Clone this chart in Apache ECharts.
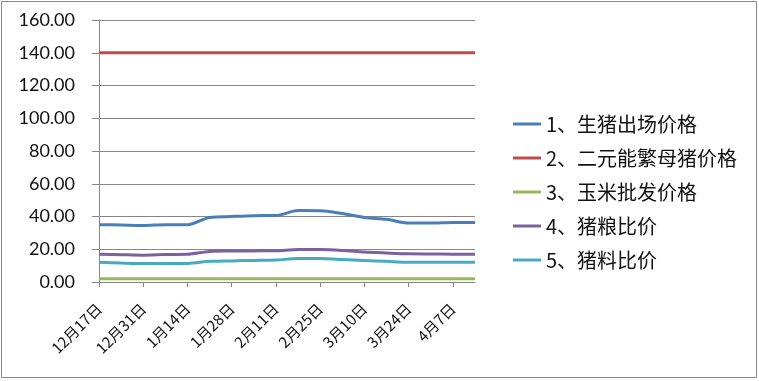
<!DOCTYPE html>
<html><head><meta charset="utf-8">
<script src="https://cdn.jsdelivr.net/npm/echarts@6/dist/echarts.min.js"></script>
<style>html,body{margin:0;padding:0;background:#fff}#c{width:759px;height:381px}</style>
</head><body><div id="c"></div>
<script>
var categories = ['12月17日','12月24日','12月31日','1月7日','1月14日','1月21日','1月28日','2月4日','2月11日','2月18日','2月25日','3月3日','3月10日','3月17日','3月24日','3月31日','4月7日','4月14日'];
var seriesNames = ['1、生猪出场价格','2、二元能繁母猪价格','3、玉米批发价格','4、猪粮比价','5、猪料比价'];
var hogPrice = [35.0,34.8,34.5,35.0,35.0,39.4,40.0,40.5,40.6,43.6,43.5,41.8,39.4,38.3,36.0,36.0,36.4,36.4];
var sowPrice = [140,140,140,140,140,140,140,140,140,140,140,140,140,140,140,140,140,140];
var cornPrice = [2.05,2.05,2.05,2.05,2.05,2.05,2.05,2.05,2.05,2.05,2.05,2.05,2.05,2.05,2.05,2.05,2.05,2.05];
var hogGrainRatio = [17.0,16.7,16.4,16.8,16.9,18.7,18.9,19.0,19.1,19.8,19.8,19.3,18.3,17.7,17.2,17.1,17.0,17.0];
var hogFeedRatio = [12.0,11.6,11.3,11.3,11.3,12.6,12.9,13.2,13.4,14.3,14.3,13.8,13.2,12.6,12.1,12.1,12.1,12.1];
var yTicks = [0,20,40,60,80,100,120,140,160];

var colors = ['#4a7ebb','#be4b48','#98b954','#7d60a0','#46aac5'];
var datas = [hogPrice, sowPrice, cornPrice, hogGrainRatio, hogFeedRatio];
var chart = echarts.init(document.getElementById('c'));
chart.setOption({
  animation:false,
  color: colors,
  graphic:[{type:'rect',shape:{x:1.5,y:1.5,width:755,height:376},style:{fill:'none',stroke:'#888',lineWidth:1}}],
  grid:{left:99,top:20,width:376,height:262},
  legend:{
    orient:'vertical', left:508, top:108, itemWidth:28, itemHeight:3, icon:'rect', itemGap:12,
    textStyle:{fontFamily:'Noto Sans CJK SC', fontSize:20, color:'#111', lineHeight:22},
    data: seriesNames
  },
  xAxis:{
    type:'category', boundaryGap:false, data:categories,
    axisLine:{lineStyle:{color:'#868686'}},
    axisTick:{interval:1, length:5, lineStyle:{color:'#868686'}},
    axisLabel:{interval:1, rotate:45, margin:24, fontFamily:'Noto Sans CJK SC', fontSize:15, color:'#111'}
  },
  yAxis:{
    type:'value', min:yTicks[0], max:yTicks[yTicks.length-1], interval:20,
    axisLine:{show:true, lineStyle:{color:'#868686'}},
    axisTick:{show:true, length:7, lineStyle:{color:'#868686'}},
    splitLine:{lineStyle:{color:'#868686'}},
    axisLabel:{fontFamily:'Lato', fontSize:18, color:'#111', margin:24, formatter:function(v){return v.toFixed(2);}}
  },
  series: seriesNames.map(function(n,i){
    return {name:n, type:'line', data:datas[i], smooth:0.3, symbol:'none', lineStyle:{width:3, color:colors[i]}, itemStyle:{color:colors[i]}};
  })
});
</script></body></html>
